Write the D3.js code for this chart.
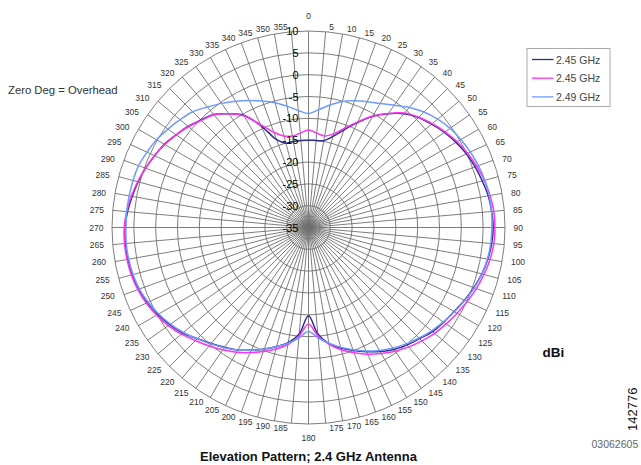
<!DOCTYPE html>
<html>
<head>
<meta charset="utf-8">
<script src="https://cdn.jsdelivr.net/npm/d3@7"></script>
<style>
  html, body { margin: 0; padding: 0; background: #fff; }
  svg { display: block; font-family: Arial, "Liberation Sans", sans-serif; }
</style>
</head>
<body>
<svg id="chart" width="641" height="465"></svg>
<script>
// Elevation angle, degrees clockwise from overhead
const angles = [
  0, 5, 10, 15, 20, 25, 30, 35, 40, 45, 50, 55,
  60, 65, 70, 75, 80, 85, 90, 95, 100, 105, 110, 115,
  120, 125, 130, 135, 140, 145, 150, 155, 160, 165, 170, 175,
  180, 185, 190, 195, 200, 205, 210, 215, 220, 225, 230, 235,
  240, 245, 250, 255, 260, 265, 270, 275, 280, 285, 290, 295,
  300, 305, 310, 315, 320, 325, 330, 335, 340, 345, 350, 355
];

// Gain in dBi at each angle
const gain245a = [
  -15.0, -15.0, -14.8, -13.4, -11.2, -8.5, -5.6, -3.2, -1.0, 0.6, 1.8, 3.0,
  4.0, 4.9, 5.6, 6.2, 6.8, 7.1, 7.3, 7.1, 6.7, 6.1, 5.3, 4.4,
  3.5, 2.8, 2.1, 1.0, 0.1, -0.9, -2.2, -3.6, -5.0, -6.4, -8.0, -10.5,
  -14.8, -10.5, -8.2, -6.8, -5.4, -4.0, -2.6, -1.5, -0.3, 1.0, 2.6, 3.8,
  4.8, 5.7, 6.4, 6.8, 7.0, 7.1, 7.0, 6.6, 6.0, 5.4, 4.7, 3.9,
  3.1, 2.0, 1.0, -0.2, -1.2, -3.2, -5.3, -9.3, -13.6, -15.0, -15.0, -15.0
];
const gain245b = [
  -12.7, -13.3, -13.7, -12.8, -10.8, -8.3, -5.5, -3.1, -0.8, 0.7, 2.0, 3.2,
  4.3, 5.2, 6.0, 6.7, 7.2, 7.6, 7.7, 7.6, 7.2, 6.6, 5.9, 5.1,
  4.3, 3.5, 2.7, 1.7, 0.7, -0.4, -1.7, -3.0, -4.5, -6.0, -7.8, -10.0,
  -12.9, -10.0, -7.8, -6.2, -4.8, -3.4, -2.0, -0.8, 0.4, 1.6, 3.0, 4.2,
  5.2, 6.0, 6.6, 7.0, 7.2, 7.3, 7.2, 6.8, 6.2, 5.5, 4.7, 3.9,
  3.0, 2.0, 0.9, -0.3, -1.3, -3.2, -5.5, -9.0, -11.8, -13.3, -13.7, -13.3
];
const gain249 = [
  -8.9, -7.9, -6.5, -5.1, -4.1, -3.2, -2.2, -0.8, 0.9, 2.4, 3.6, 4.6,
  5.3, 5.9, 6.4, 6.8, 7.0, 7.1, 7.0, 6.9, 6.6, 6.1, 5.4, 4.5,
  3.6, 2.7, 1.8, 0.8, -0.2, -1.3, -2.5, -3.8, -5.2, -6.6, -8.1, -9.6,
  -11.2, -9.6, -8.1, -6.8, -5.4, -4.0, -2.6, -1.4, -0.2, 1.0, 2.4, 3.6,
  4.6, 5.5, 6.2, 6.6, 6.8, 6.9, 6.8, 6.8, 6.7, 6.6, 6.4, 5.8,
  5.2, 4.3, 3.4, 2.5, 1.0, -0.3, -1.6, -2.9, -4.2, -5.4, -6.8, -8.1
];

const seriesNames = ["2.45 GHz", "2.45 GHz", "2.49 GHz"];
const seriesColors = ["#2e2e8f", "#ff33ee", "#6e9bff"];

// Radial gridline values (dBi)
const radialTicks = [-35, -30, -25, -20, -15, -10, -5, 0, 5, 10];

const svg = d3.select("#chart");
const cx = 308.5, cy = 227.5, R = 196.5;
const g = svg.append("g").attr("transform", `translate(${cx},${cy})`);

const r = d3.scaleLinear().domain([-35, 10]).range([0, R]);
const rad = d => d * Math.PI / 180;
const gridColor = "#6f6f6f";

// concentric rings
g.append("g").selectAll("circle")
  .data(radialTicks.filter(v => v > -35))
  .join("circle")
  .attr("r", d => r(d))
  .attr("fill", "none")
  .attr("stroke", gridColor)
  .attr("stroke-width", 0.9);

// spokes every 5 degrees
g.append("g").selectAll("line")
  .data(angles)
  .join("line")
  .attr("x1", 0).attr("y1", 0)
  .attr("x2", d => R * Math.sin(rad(d)))
  .attr("y2", d => -R * Math.cos(rad(d)))
  .attr("stroke", gridColor)
  .attr("stroke-width", 0.9);

// angle labels around the outer ring
const labR = 205;
g.append("g").selectAll("text")
  .data(angles)
  .join("text")
  .attr("font-size", 8.5)
  .attr("fill", "#333")
  .attr("dominant-baseline", "central")
  .attr("text-anchor", d => (d === 0 || d === 180) ? "middle" : (d < 180 ? "start" : "end"))
  .attr("x", d => {
    const s = Math.sin(rad(d)), c = Math.cos(rad(d));
    if (d === 0 || d === 180) return 0;
    return labR * s + (d < 180 ? 1 : -1) * 3 * Math.abs(c);
  })
  .attr("y", d => {
    const c = Math.cos(rad(d));
    if (d === 0) return -labR - 7;
    if (d === 180) return labR + 5;
    return -labR * c + 3.5 * c;
  })
  .text(d => d);

// pattern curves
const series = [gain245a, gain245b, gain249];
const line = d3.lineRadial()
  .angle((d, i) => rad(angles[i]))
  .radius(d => r(d))
  .curve(d3.curveCatmullRomClosed.alpha(0.5));

g.append("g").selectAll("path")
  .data(series)
  .join("path")
  .attr("d", d => line(d))
  .attr("fill", "none")
  .attr("stroke", (d, i) => seriesColors[i])
  .attr("stroke-width", 1.5);

// radial dBi labels along the 0 degree spoke
g.append("g").selectAll("text")
  .data(radialTicks)
  .join("text")
  .attr("x", -10)
  .attr("y", d => -r(d))
  .attr("text-anchor", "end")
  .attr("dominant-baseline", "central")
  .attr("font-size", 11)
  .attr("fill", "#000")
  .text(d => d);

// legend
const lg = svg.append("g").attr("transform", "translate(527,48.5)");
lg.append("rect")
  .attr("width", 83).attr("height", 58)
  .attr("fill", "#fff")
  .attr("stroke", "#aaa")
  .attr("stroke-width", 1);
seriesNames.forEach((name, i) => {
  const y = 11 + i * 18.7;
  lg.append("line")
    .attr("x1", 5).attr("x2", 26.5)
    .attr("y1", y).attr("y2", y)
    .attr("stroke", seriesColors[i])
    .attr("stroke-width", 1.3);
  lg.append("text")
    .attr("x", 29).attr("y", y)
    .attr("dominant-baseline", "central")
    .attr("font-size", 10.5)
    .attr("fill", "#444")
    .text(name);
});

// annotations
svg.append("text")
  .attr("x", 8).attr("y", 94)
  .attr("font-size", 11.3)
  .attr("fill", "#333")
  .text("Zero Deg = Overhead");

svg.append("text")
  .attr("x", 308.5).attr("y", 460.5)
  .attr("text-anchor", "middle")
  .attr("font-size", 13)
  .attr("font-weight", "bold")
  .attr("fill", "#111")
  .text("Elevation Pattern; 2.4 GHz Antenna");

svg.append("text")
  .attr("x", 542.5).attr("y", 356.5)
  .attr("font-size", 13.5)
  .attr("font-weight", "bold")
  .attr("fill", "#111")
  .text("dBi");

svg.append("text")
  .attr("transform", "translate(637,431) rotate(-90)")
  .attr("font-size", 13)
  .attr("fill", "#111")
  .text("142776");

svg.append("text")
  .attr("x", 591.5).attr("y", 448)
  .attr("font-size", 10.5)
  .attr("fill", "#666")
  .text("03062605");
</script>
</body>
</html>
